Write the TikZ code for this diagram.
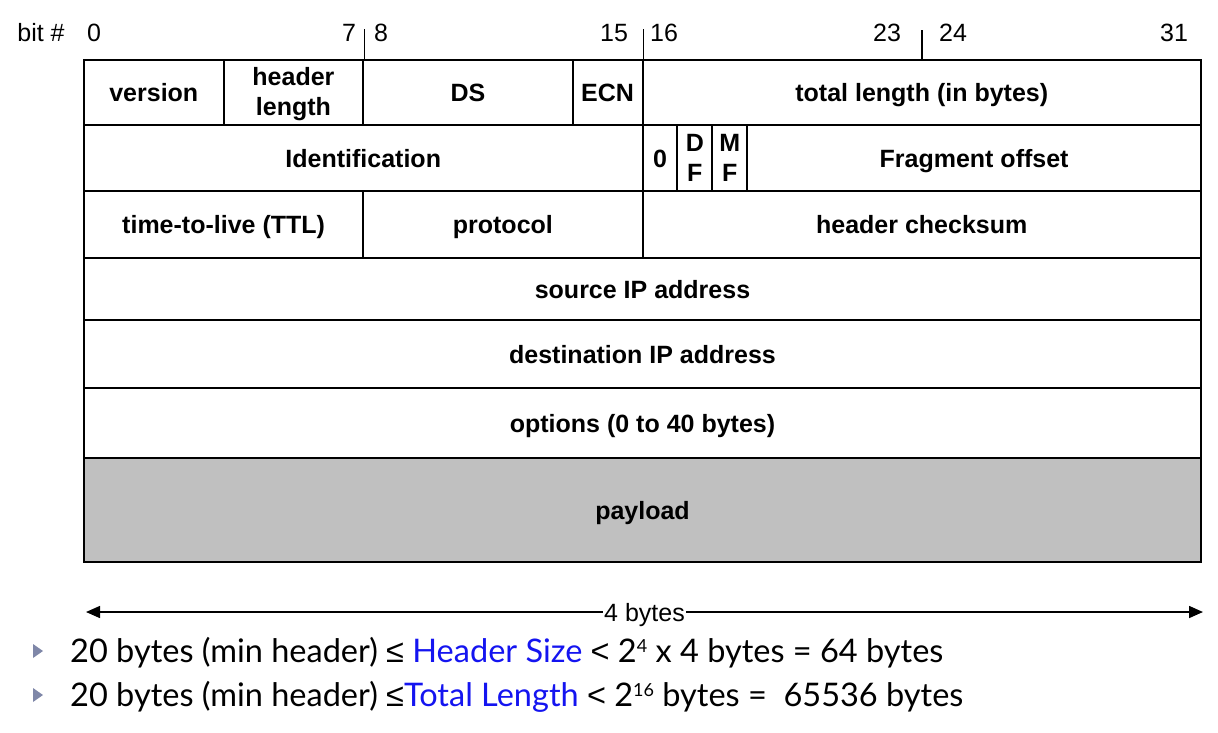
\documentclass[tikz,border=0pt]{standalone}
\usepackage{fontspec}
\setmainfont{Liberation Sans}
\newfontfamily\notefont{Lato}
\newfontfamily\relfont{Liberation Sans}
\usetikzlibrary{arrows.meta}
\definecolor{payloadgray}{HTML}{C0C0C0}
\definecolor{bulletgray}{HTML}{7F87A8}
\definecolor{termblue}{HTML}{1414F0}
% width of one bit column
\newcommand\bitw{34.906}
% \fld[opts]{name}{first bit}{end bit}{top y}{bottom y}{text}
\newcommand\fld[7][]{%
  \node[field,#1,minimum width={(#4-#3)*\bitw*1pt},minimum height={(#6-#5)*1pt}]
    (#2) at ({84+(#3+#4)/2*\bitw},{(#5+#6)/2}) {#7};}
% small raised exponent and relation signs for the notes
\newcommand\expo[1]{\raisebox{10pt}{\fontsize{18}{18}\selectfont #1}}
\newcommand\rle{{\relfont ≤}}
\newcommand\rlt{{\relfont <}}
\begin{document}
\begin{tikzpicture}[x=1pt,y=-1pt,
  field/.style={draw,line width=2pt,inner sep=0pt,align=center,
    text height=18pt,text depth=0pt,
    font=\fontsize{25}{28}\selectfont\bfseries},
  twoline/.style={text height={},text depth={}},
  bitno/.style={font=\fontsize{25}{28}\selectfont,inner sep=0pt,
    text height=18pt,text depth=0pt},
  tickline/.style={line width=1.5pt},
  note/.style={font=\notefont\fontsize{32.5}{36}\selectfont,inner sep=0pt,anchor=base west}]
\useasboundingbox (0,0) rectangle (1218,732);

% row 1
\fld{ver}{0}{4}{60}{125}{version}
\fld[twoline]{hlen}{4}{8}{60}{125}{\rule{0pt}{21pt}header\\[2pt]length}
\fld{ds}{8}{14}{60}{125}{DS}
\fld{ecn}{14}{16}{60}{125}{ECN}
\fld{tlen}{16}{32}{60}{125}{total length (in bytes)}
% row 2
\fld{ident}{0}{16}{125}{191}{Identification}
\fld{zero}{16}{17}{125}{191}{0}
\fld[twoline]{df}{17}{18}{125}{191}{D\\[2pt]F}
\fld[twoline]{mf}{18}{19}{125}{191}{M\\[2pt]F}
\fld{frag}{19}{32}{125}{191}{Fragment offset}
% row 3
\fld{ttl}{0}{8}{191}{258}{time-to-live (TTL)}
\fld{proto}{8}{16}{191}{258}{protocol}
\fld{cksum}{16}{32}{191}{258}{header checksum}
% rows 4-7
\fld{src}{0}{32}{258}{320}{source IP address}
\fld{dst}{0}{32}{320}{388}{destination IP address}
\fld{opts}{0}{32}{388}{458}{options (0 to 40 bytes)}
\fld[fill=payloadgray]{payload}{0}{32}{458}{562}{payload}

% bit numbers
\node[bitno] (bitlbl) at (41,32) {bit \#};
\node[bitno] (b0) at (94,32) {0};
\node[bitno] (b7) at (349,32) {7};
\node[bitno] (b8) at (381,32) {8};
\node[bitno] (b15) at (614,32) {15};
\node[bitno] (b16) at (664,32) {16};
\node[bitno] (b23) at (887,32) {23};
\node[bitno] (b24) at (953,32) {24};
\node[bitno] (b31) at (1174,32) {31};

% byte boundary ticks
\path (hlen.north east) ++(0,-30) coordinate (k8);
\path (ecn.north east) ++(0,-30) coordinate (k16);
\path (tlen.north) ++(0,-29) coordinate (k24);
\draw[tickline] (hlen.north east) -- (k8);
\draw[tickline] (ecn.north east) -- (k16);
\draw[tickline] (tlen.north) -- (k24);

% width arrow
\coordinate (wl) at (86,612);
\coordinate (wr) at (1203,612);
\draw[line width=1.5pt,{Triangle[length=14pt,width=12pt]}-{Triangle[length=14pt,width=12pt]}]
  (wl) -- node[fill=white,inner sep=1pt,text height=18pt,text depth=0pt,
    font=\fontsize{25}{28}\selectfont] (wlabel) {4 bytes} (wr);

% notes
\fill[bulletgray] (33,644) -- (43,651) -- (33,658) -- cycle;
\fill[bulletgray] (33,688) -- (43,695) -- (33,702) -- cycle;
\node[note] (n1) at (70,662) {20 bytes (min header) \rle{} \textcolor{termblue}{Header Size} \rlt{} 2\expo{4} x 4 bytes = 64 bytes};
\node[note] (n2) at (70,706) {20 bytes (min header) \rle\textcolor{termblue}{Total Length} \rlt{} 2\expo{16} bytes =\ \ 65536 bytes};
\end{tikzpicture}
\end{document}
